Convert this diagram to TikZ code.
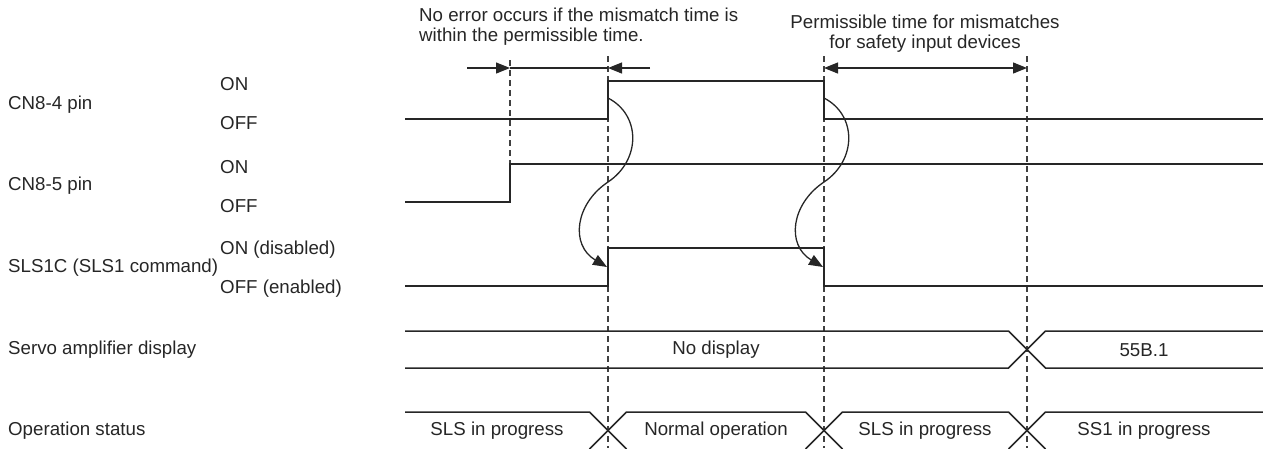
\documentclass[tikz,border=0pt]{standalone}
\usepackage{fontspec}
\setmainfont{Liberation Sans}
\usetikzlibrary{arrows.meta}
\begin{document}
\begin{tikzpicture}[x=1pt,y=-1pt,
  sig/.style={line width=1.5pt, draw=black!85, line join=miter},
  dsh/.style={line width=1.2pt, draw=black!75, dash pattern=on 6pt off 4pt},
  txt/.style={font=\fontsize{18.7}{20}\selectfont, text=black!85, inner sep=0pt},
  tipend/.style={-{Triangle[length=14pt,width=11pt]}},
  tipboth/.style={{Triangle[length=14pt,width=11pt]}-{Triangle[length=14pt,width=11pt]}},
  dim/.style={line width=1.2pt, draw=black!85},
  curv/.style={line width=1.3pt, draw=black!85}
]
\useasboundingbox (0,0) rectangle (1263,448);

% left labels
\node[txt, anchor=west] (cn4) at (8,105) {CN8-4 pin};
\node[txt, anchor=west] (cn5) at (8,186) {CN8-5 pin};
\node[txt, anchor=west] (sls) at (8,268) {SLS1C (SLS1 command)};
\node[txt, anchor=west] (sad) at (8,350) {Servo amplifier display};
\node[txt, anchor=west] (ops) at (8,431) {Operation status};

\node[txt, anchor=west] (on1) at (220,84) {ON};
\node[txt, anchor=west] (off1) at (220,123) {OFF};
\node[txt, anchor=west] (on2) at (220,167) {ON};
\node[txt, anchor=west] (off2) at (220,206) {OFF};
\node[txt, anchor=west] (on3) at (220,250) {ON (disabled)};
\node[txt, anchor=west] (off3) at (220,289) {OFF (enabled)};

% top notes
\node[txt, anchor=west, align=left] (note1) at (419,27) {No error occurs if the mismatch time is\\within the permissible time.};
\node[txt, align=center] (note2) at (925,34) {Permissible time for mismatches\\for safety input devices};

% dashed guide lines
\coordinate (d1t) at (510,60);  \coordinate (d1b) at (510,202);
\coordinate (d2t) at (608,56);  \coordinate (d2b) at (608,448);
\coordinate (d3t) at (824,56);  \coordinate (d3b) at (824,448);
\coordinate (d4t) at (1027,56); \coordinate (d4b) at (1027,448);
\draw[dsh] (d1t) -- (d1b);
\draw[dsh] (d2t) -- (d2b);
\draw[dsh] (d3t) -- (d3b);
\draw[dsh] (d4t) -- (d4b);

% signals
\draw[sig] (405,119) -- (608,119) -- (608,81) -- (824,81) -- (824,119) -- (1263,119);
\draw[sig] (405,202) -- (510,202) -- (510,164) -- (1263,164);
\draw[sig] (405,286) -- (608,286) -- (608,248) -- (824,248) -- (824,286) -- (1263,286);

% servo amplifier display bus
\draw[sig] (405,331) -- (1008.5,331) -- (1045.5,368) -- (1263,368);
\draw[sig] (405,368) -- (1008.5,368) -- (1045.5,331) -- (1263,331);
\node[txt] (nd) at (716,350) {No display};
\node[txt] (c55) at (1144,350) {55B.1};

% operation status bus
\draw[sig] (405,412) -- (589.5,412) -- (626.5,449);
\draw[sig] (589.5,449) -- (626.5,412) -- (805.5,412) -- (842.5,449);
\draw[sig] (805.5,449) -- (842.5,412) -- (1008.5,412) -- (1045.5,449);
\draw[sig] (1008.5,449) -- (1045.5,412) -- (1263,412);
\node[txt] (s1) at (497,431) {SLS in progress};
\node[txt] (s2) at (716,431) {Normal operation};
\node[txt] (s3) at (925,431) {SLS in progress};
\node[txt] (s4) at (1144,431) {SS1 in progress};

% dimension arrows
\coordinate (m0) at (467,68); \coordinate (m1) at (510,68);
\coordinate (m2) at (608,68); \coordinate (m3) at (650,68);
\coordinate (p1) at (824,68); \coordinate (p2) at (1027,68);
\draw[dim,tipend] (m0) -- (m1);
\draw[dim] (m1) -- (m2);
\draw[dim,tipend] (m3) -- (m2);
\draw[dim,tipboth] (p1) -- (p2);

% cause arrows
\coordinate (a1s) at (608,98);  \coordinate (a1e) at (607,267);
\coordinate (a2s) at (824,98);  \coordinate (a2e) at (823,267);
\draw[curv,tipend] (a1s) .. controls (641,115) and (641,160) .. (608,182)
  .. controls (575,204) and (570,245) .. (a1e);
\draw[curv,tipend] (a2s) .. controls (857,115) and (857,160) .. (824,182)
  .. controls (791,204) and (786,245) .. (a2e);
\end{tikzpicture}
\end{document}
